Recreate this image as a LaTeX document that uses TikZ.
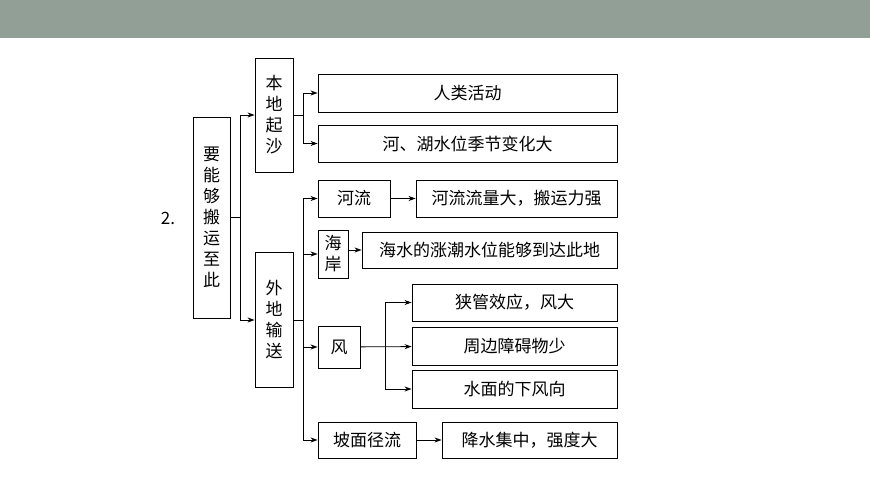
\documentclass[tikz,border=0pt]{standalone}
\usepackage{fontspec}
\setmainfont{Noto Sans CJK SC}
\usetikzlibrary{arrows.meta}
\begin{document}
\begin{tikzpicture}[x=1pt,y=-1pt,
 box/.style={draw,line width=0.9pt,inner sep=0pt,font=\fontsize{17}{21}\selectfont,align=center},
 arr/.style={-{Stealth[length=7pt,width=5pt]},line width=0.8pt}]
\useasboundingbox (0,0) rectangle (870,489);
\fill[fill={rgb,255:red,146;green,159;blue,150}] (0,0) rectangle (870,38);
\node[font=\fontsize{17}{21}\selectfont] (n2) at (168,218) {2.};
\node[box,minimum width=37,minimum height=201] (m) at (211.5,217.5) {要\\能\\够\\搬\\运\\至\\此};
\node[box,minimum width=38,minimum height=114] (bd) at (274,115) {本\\地\\起\\沙};
\node[box,minimum width=38,minimum height=135] (wd) at (274,319.5) {外\\地\\输\\送};
\node[box,minimum width=299,minimum height=38] (a1) at (467.5,93) {人类活动};
\node[box,minimum width=299,minimum height=37] (a2) at (467.5,143.5) {河、湖水位季节变化大};
\node[box,minimum width=72,minimum height=37] (hl) at (354,198.5) {河流};
\node[box,minimum width=201,minimum height=37] (hl2) at (516.5,198.5) {河流流量大，搬运力强};
\node[box,minimum width=30,minimum height=48] (ha) at (333,254) {海\\岸};
\node[box,minimum width=255,minimum height=36] (ha2) at (489.5,250) {海水的涨潮水位能够到达此地};
\node[box,minimum width=42,minimum height=42] (f) at (339,347) {风};
\node[box,minimum width=205,minimum height=37] (f1) at (514.5,302.5) {狭管效应，风大};
\node[box,minimum width=205,minimum height=38] (f2) at (514.5,346) {周边障碍物少};
\node[box,minimum width=205,minimum height=38] (f3) at (514.5,389) {水面的下风向};
\node[box,minimum width=98,minimum height=36] (p) at (367,440) {坡面径流};
\node[box,minimum width=175,minimum height=36] (p2) at (529.5,440) {降水集中，强度大};
\coordinate (j0) at (240,217.5);
\draw[line width=0.8pt] (m.east|-j0) -- (j0);
\draw[arr] (240,320) |- (240,115) -- (bd.west|-0,115);
\draw[arr] (j0) |- (wd.west|-0,320);
\draw[line width=0.8pt] (bd.east|-0,115) -- (303,115);
\draw[arr] (303,115) |- (a1.west);
\draw[arr] (303,115) |- (a2.west);
\draw[line width=0.8pt] (wd.east|-0,320) -- (303,320);
\draw[arr] (303,320) |- (hl.west);
\draw[arr] (303,320) |- (ha.west);
\draw[arr] (303,320) |- (f.west);
\draw[arr] (303,320) |- (p.west);
\draw[arr] (hl) -- (hl2);
\draw[arr] (ha.east|-ha2) -- (ha2.west);
\draw[arr] (p) -- (p2);
\draw[arr] (f) -- (f2);
\draw[arr] (385,347) |- (f1.west);
\draw[arr] (385,347) |- (f3.west);
\end{tikzpicture}
\end{document}
